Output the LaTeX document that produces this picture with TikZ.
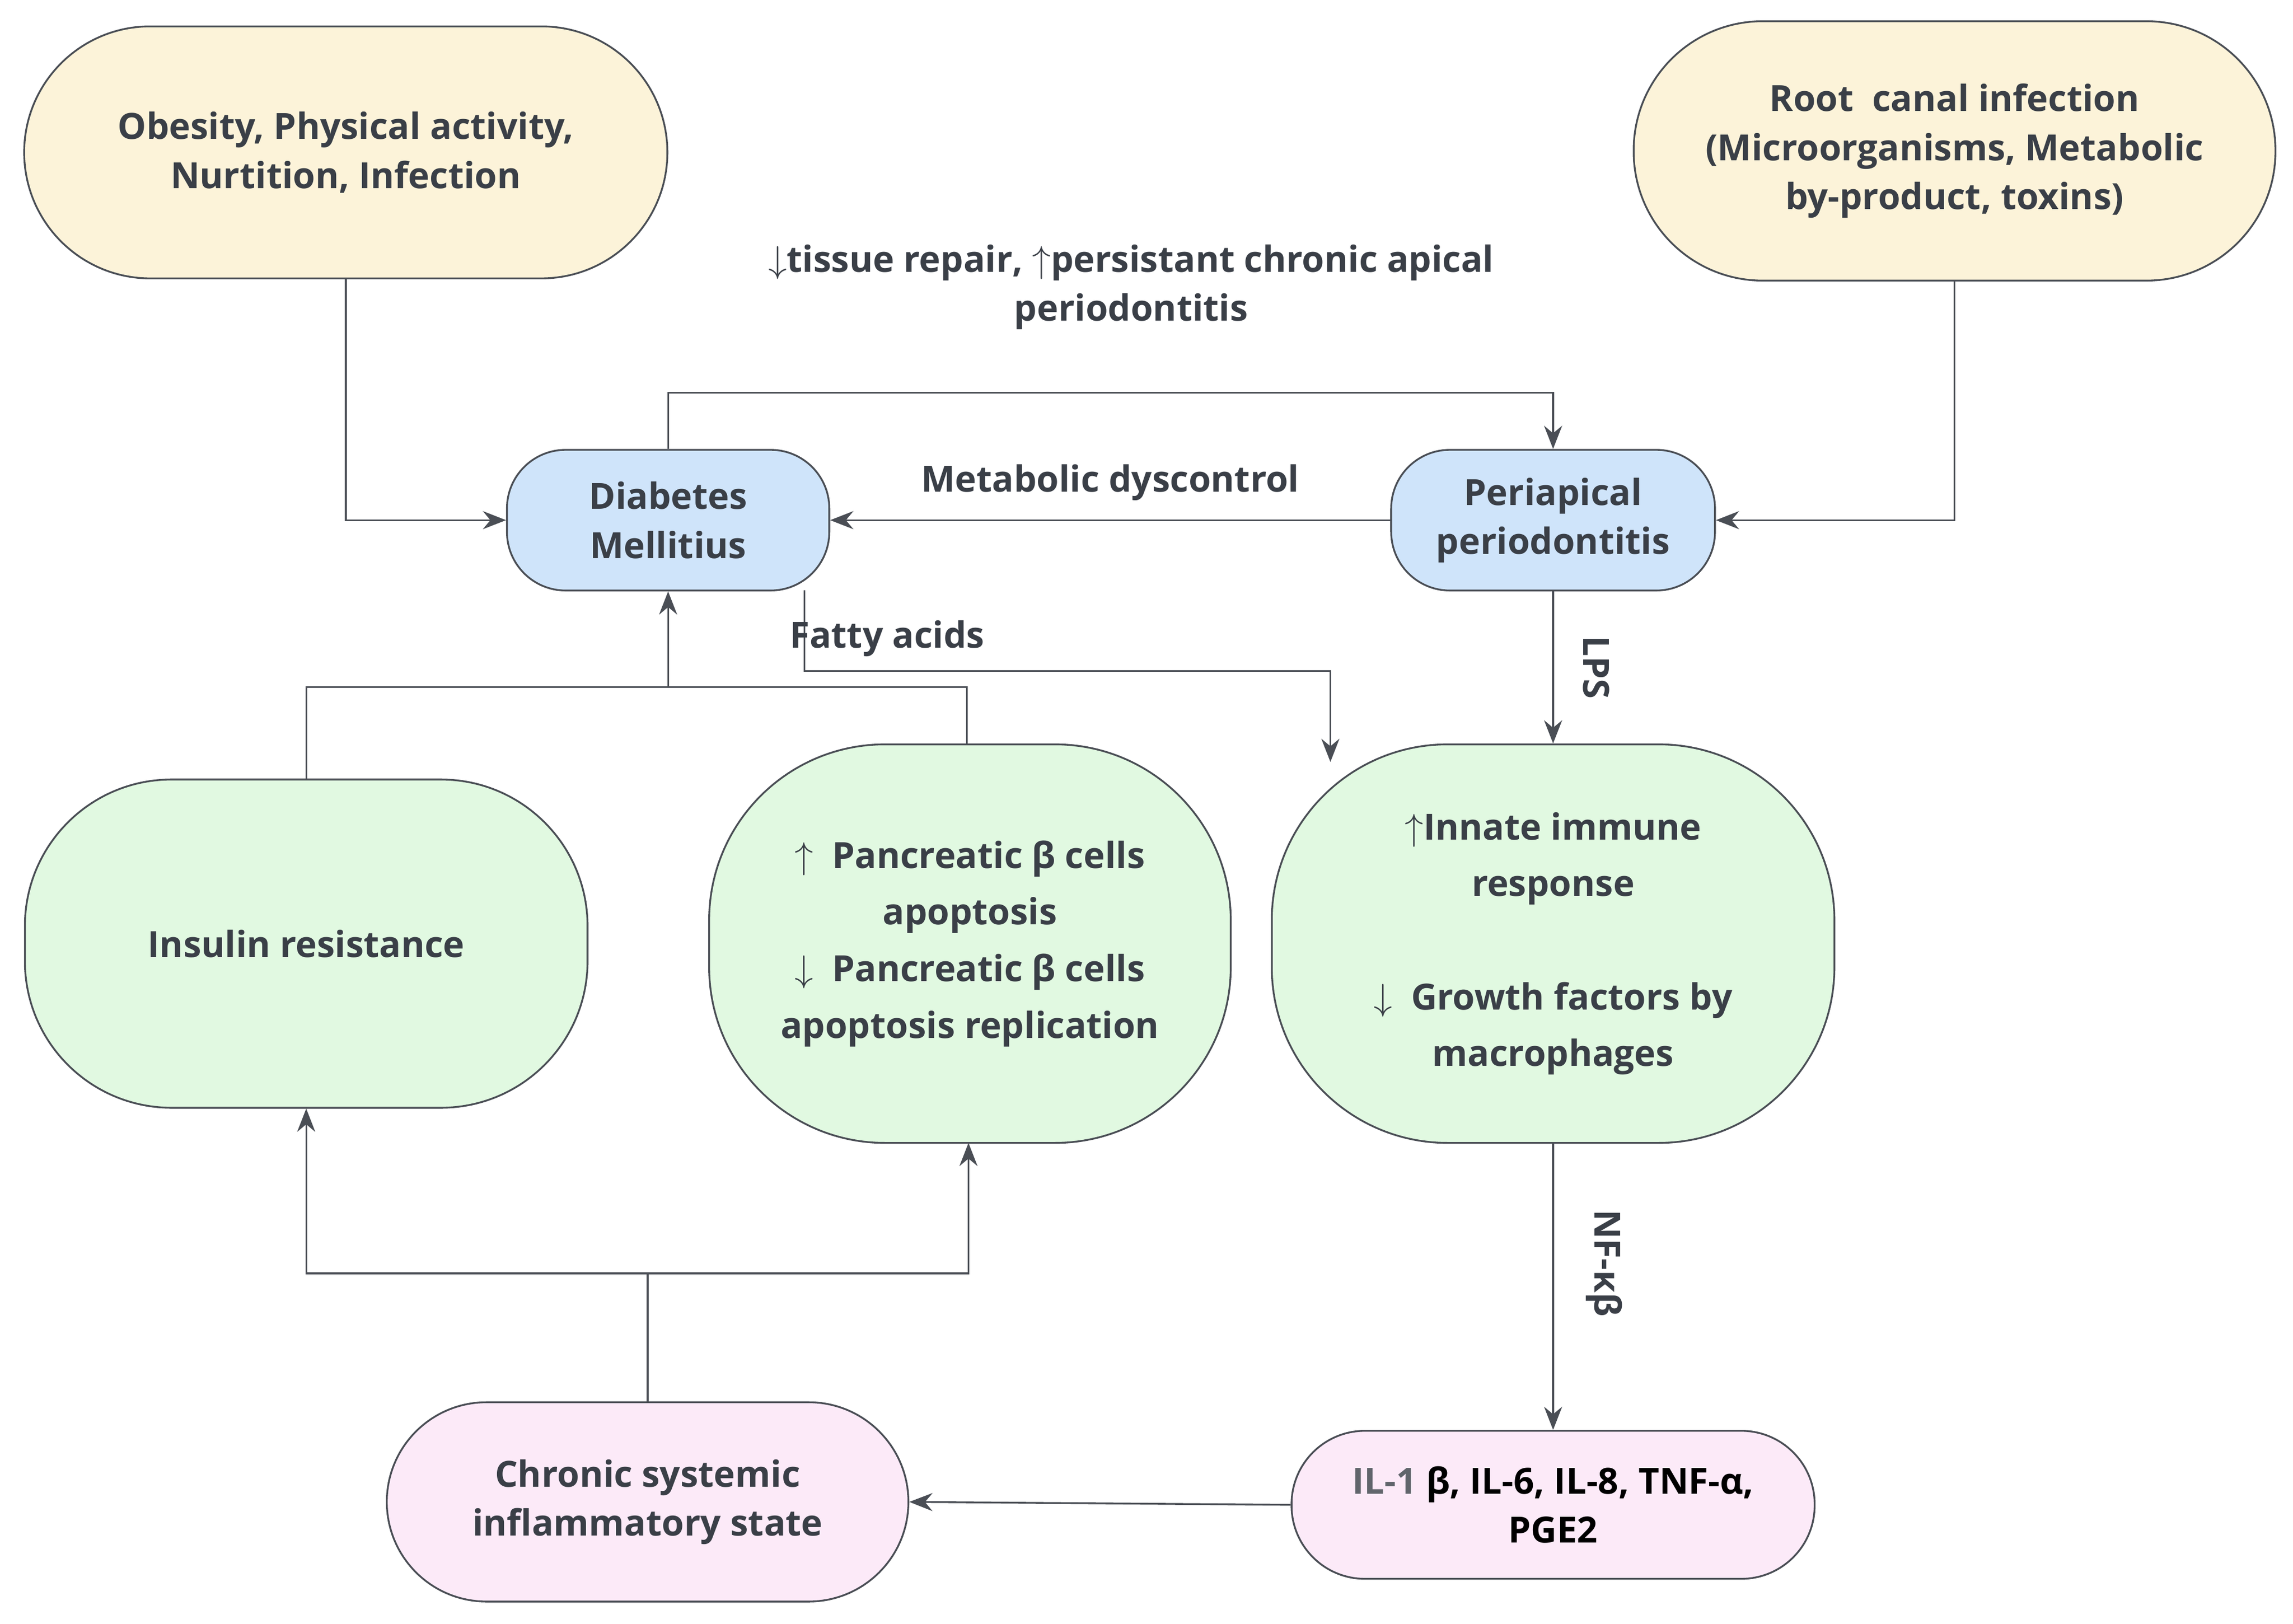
\documentclass[tikz,border=0pt]{standalone}
\usepackage{fontspec}
\setmainfont{Open Sans}
\usetikzlibrary{arrows.meta}
\definecolor{txt}{HTML}{3A3F47}
\definecolor{ln}{HTML}{4A4E55}
\definecolor{yel}{HTML}{FCF3D9}
\definecolor{blu}{HTML}{CFE4FA}
\definecolor{grn}{HTML}{E1F9E1}
\definecolor{pnk}{HTML}{FCEAF8}
\begin{document}
\begin{tikzpicture}[x=0.02cm,y=-0.02cm,
 box/.style={draw=ln,line width=0.7pt,text=txt,font=\fontsize{14}{19}\selectfont\bfseries,align=center,inner sep=0pt},
 con/.style={draw=ln,line width=0.7pt},
 arr/.style={con,-{Stealth[length=9pt,width=7pt]}},
 lab/.style={text=txt,font=\fontsize{14}{19}\selectfont\bfseries,align=center}]
\useasboundingbox (0,0) rectangle (1565,1108);
\node[box,fill=yel,minimum width=439*0.02cm,minimum height=172*0.02cm,rounded corners=86*0.02cm] (ob) at (236,104) {Obesity, Physical activity,\\Nurtition, Infection};
\node[box,fill=yel,minimum width=438*0.02cm,minimum height=177*0.02cm,rounded corners=88*0.02cm] (rc) at (1334,103) {Root\ \ canal infection\\(Microorganisms, Metabolic\\by-product, toxins)};
\node[box,fill=blu,minimum width=220*0.02cm,minimum height=96*0.02cm,rounded corners=40*0.02cm] (dm) at (456,355) {Diabetes\\Mellitius};
\node[box,fill=blu,minimum width=221*0.02cm,minimum height=96*0.02cm,rounded corners=40*0.02cm] (pp) at (1060,355) {Periapical\\periodontitis};
\node[box,fill=grn,minimum width=384*0.02cm,minimum height=224*0.02cm,rounded corners=100*0.02cm] (ir) at (209,644) {Insulin resistance};
\node[box,fill=grn,minimum width=356*0.02cm,minimum height=272*0.02cm,rounded corners=120*0.02cm,font=\fontsize{14}{22}\selectfont\bfseries] (pc) at (662,644) {$\uparrow$\ \ Pancreatic β cells\\apoptosis\\$\downarrow$\ \ Pancreatic β cells\\apoptosis replication};
\node[box,fill=grn,minimum width=384*0.02cm,minimum height=272*0.02cm,rounded corners=120*0.02cm,font=\fontsize{14}{22}\selectfont\bfseries] (in) at (1060,644) {$\uparrow$Innate immune\\response\\[22pt]$\downarrow$\ \ Growth factors by\\macrophages};
\node[box,fill=pnk,minimum width=356*0.02cm,minimum height=136*0.02cm,rounded corners=68*0.02cm] (cs) at (442,1025) {Chronic systemic\\inflammatory state};
\node[box,fill=pnk,minimum width=357*0.02cm,minimum height=101*0.02cm,rounded corners=50*0.02cm,text=black] (il) at (1060,1027) {{\color{txt!80}IL-1} β, IL-6, IL-8, TNF-α,\\PGE2};
\coordinate (jn) at (456,469);
\coordinate (jc) at (442,869);
\draw[arr] (ob.south) |- (dm.west);
\draw[arr] (rc.south) |- (pp.east);
\draw[arr] (dm.north) -- (456,268) -| (pp.north);
\draw[arr] (pp.west) -- node[lab,above=4pt] {Metabolic dyscontrol} (dm.east);
\draw[arr] (549,403) -- (549,458) -- node[lab,above=2pt,pos=0.5,xshift=-70] {Fatty acids} (908,458) -- (908,520);
\draw[arr] (pp.south) -- node[lab,right=8pt,rotate=-90,anchor=south] {LPS} (in.north);
\draw[con] (ir.north) -- (209,469) -- (660,469) -- (660,508);
\draw[arr] (jn) -- (dm.south);
\draw[arr] (in.south) -- node[lab,rotate=-90,anchor=south,yshift=-8pt] {} (il.north);
\node[lab,rotate=-90] at (1095,862) {NF-κβ};
\node[lab,rotate=-90] at (1095,447) {};
\draw[arr] (il.west) -- (cs.east);
\draw[con] (cs.north) -- (jc);
\draw[arr] (jc) -| (ir.south);
\draw[arr] (jc) -| (661,780);
\node[lab] at (772,196) {$\downarrow$tissue repair, $\uparrow$persistant chronic apical\\periodontitis};
\end{tikzpicture}
\end{document}
